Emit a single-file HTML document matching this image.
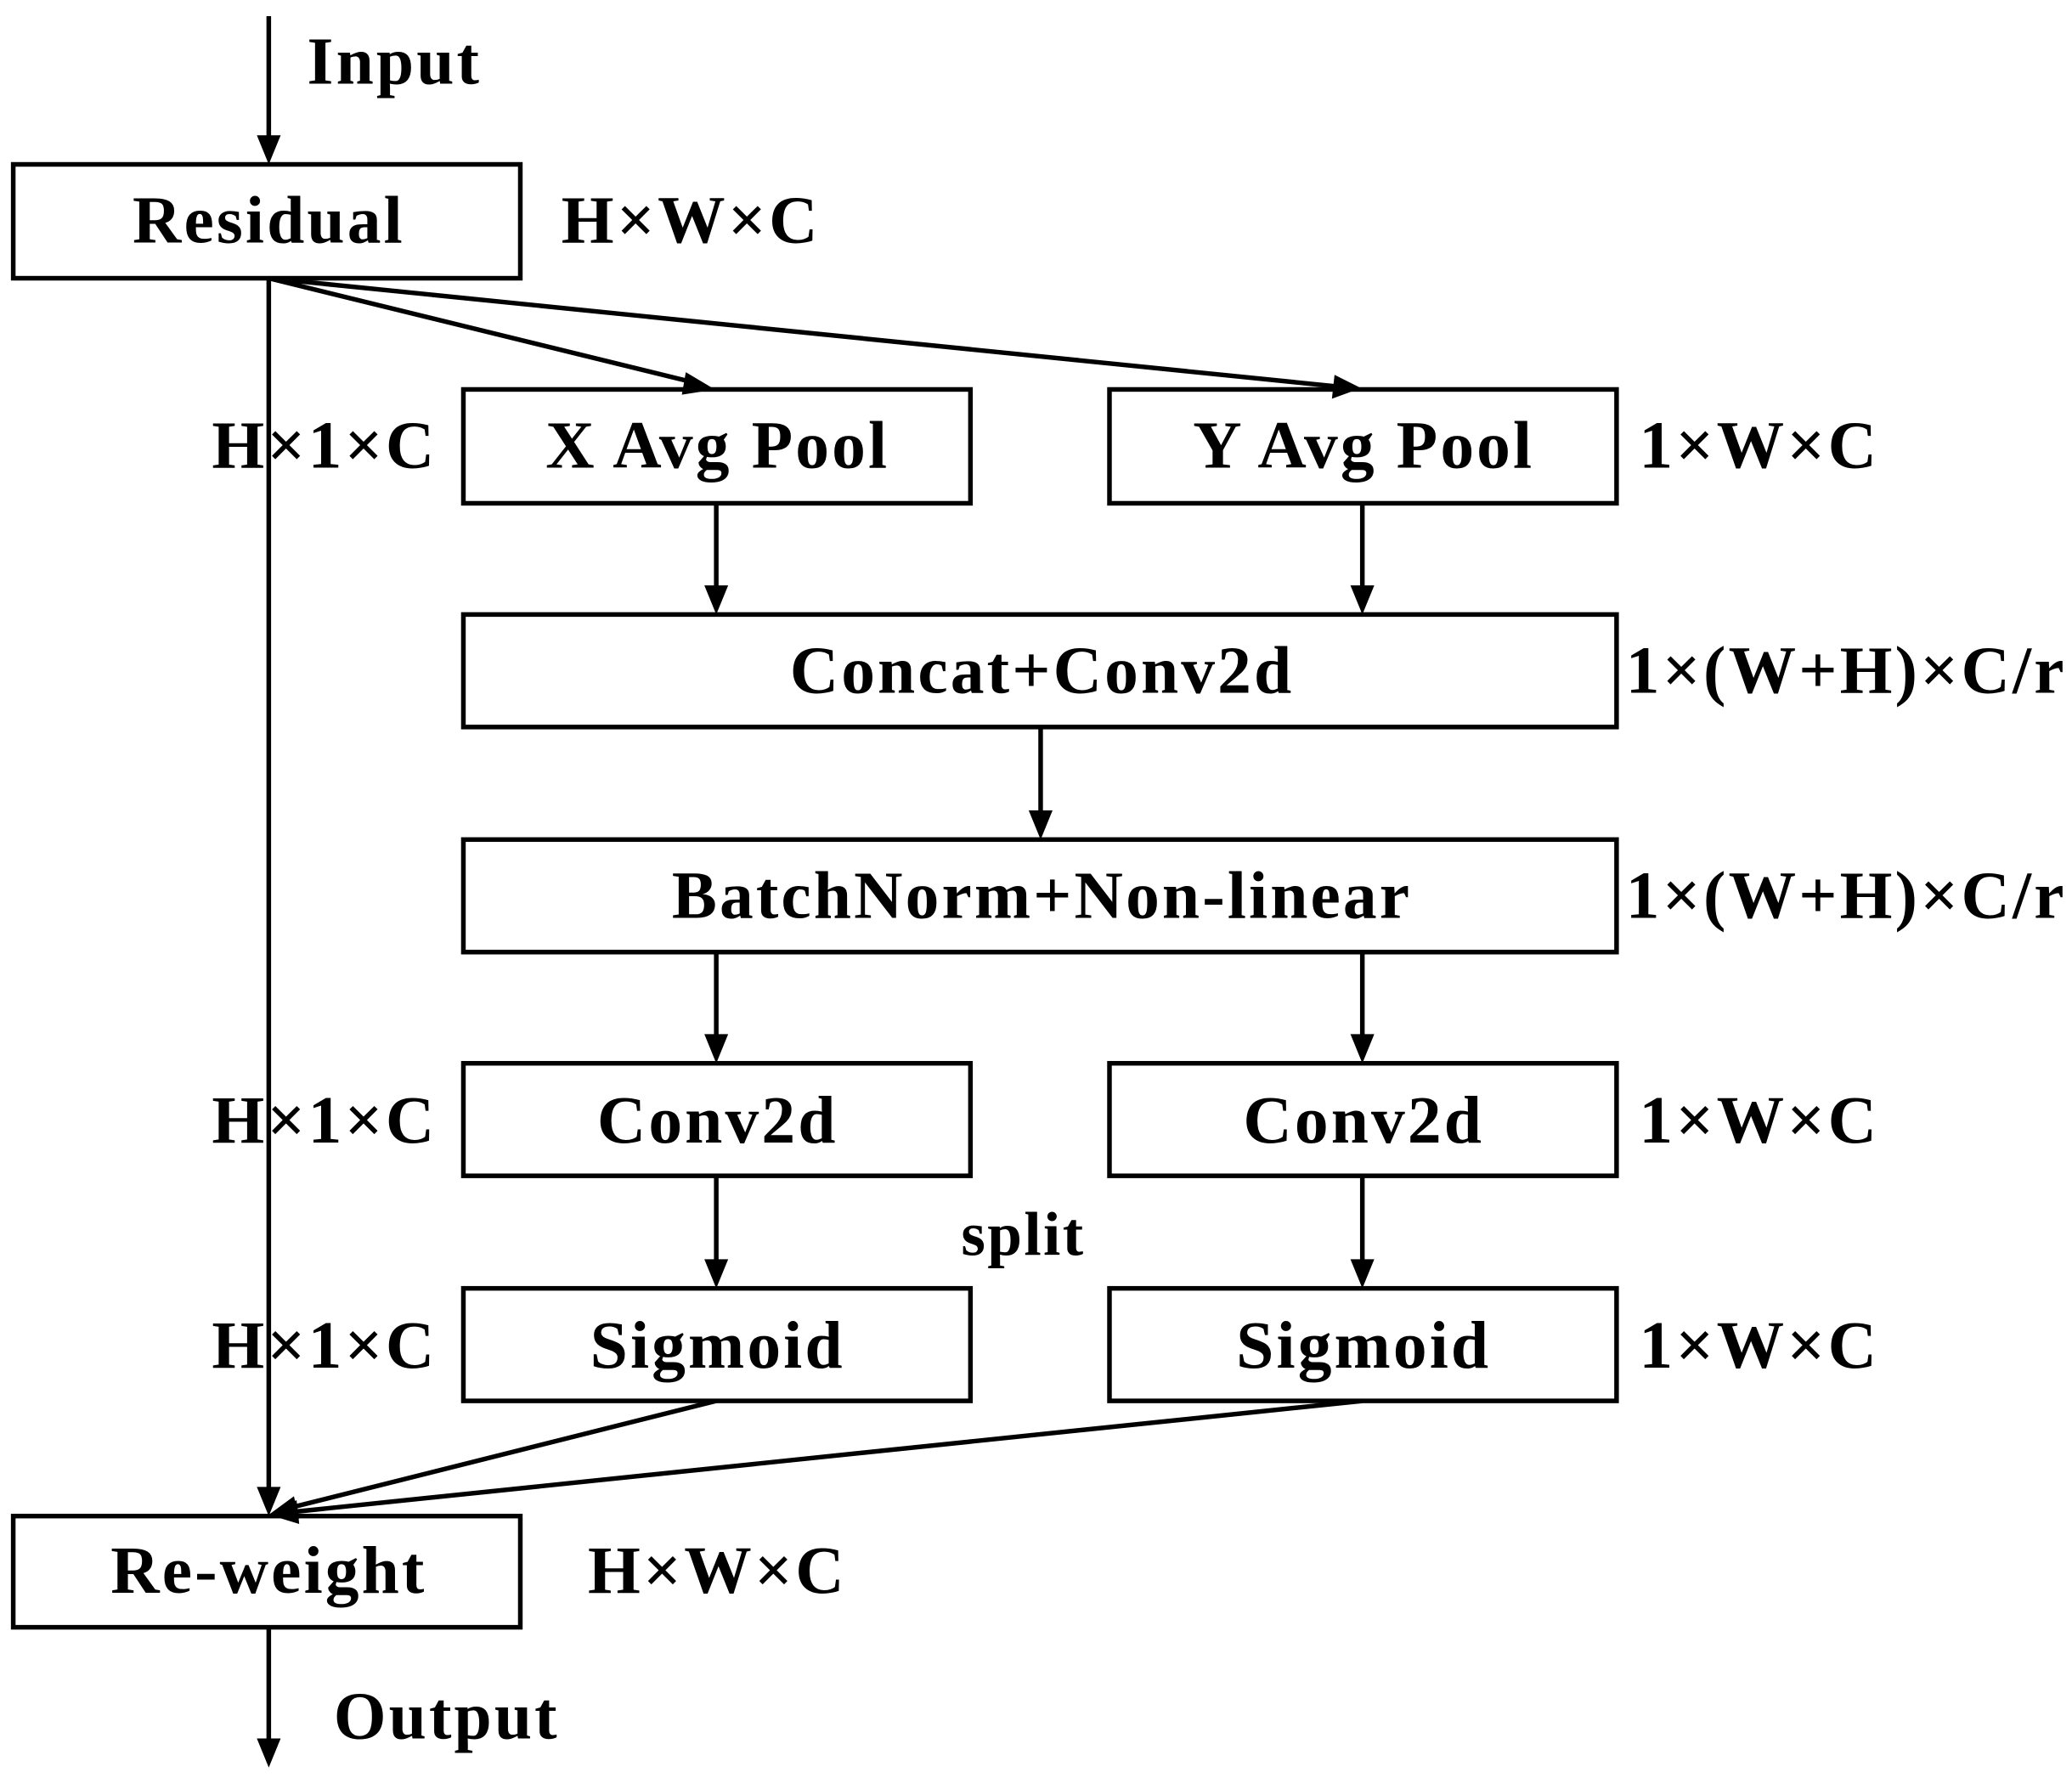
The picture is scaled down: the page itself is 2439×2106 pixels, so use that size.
<!DOCTYPE html>
<html><head><meta charset="utf-8"><style>
html,body{margin:0;padding:0;background:#fff;}
svg{display:block;}
text{font-family:"Liberation Serif",serif;font-weight:bold;fill:#000;}
</style></head><body>
<svg width="2439" height="2106" viewBox="0 0 1565 1351" xmlns="http://www.w3.org/2000/svg">
<g stroke="#000" stroke-width="3.5" fill="none">
<rect x="10" y="124" width="383" height="86"/>
<rect x="350" y="294" width="383" height="86"/>
<rect x="838" y="294" width="383" height="86"/>
<rect x="350" y="464" width="871" height="85"/>
<rect x="350" y="634" width="871" height="85"/>
<rect x="350" y="803" width="383" height="85"/>
<rect x="838" y="803" width="383" height="85"/>
<rect x="350" y="973" width="383" height="85"/>
<rect x="838" y="973" width="383" height="85"/>
<rect x="10" y="1145" width="383" height="84"/>
<line x1="203" y1="12" x2="203" y2="108"/>
<line x1="203" y1="210" x2="203" y2="1128"/>
<line x1="203" y1="210" x2="525" y2="289"/>
<line x1="203" y1="210" x2="1012" y2="292"/>
<line x1="541" y1="380" x2="541" y2="448"/>
<line x1="1029" y1="380" x2="1029" y2="448"/>
<line x1="786" y1="549" x2="786" y2="618"/>
<line x1="541" y1="719" x2="541" y2="787"/>
<line x1="1029" y1="719" x2="1029" y2="787"/>
<line x1="541" y1="888" x2="541" y2="957"/>
<line x1="1029" y1="888" x2="1029" y2="957"/>
<line x1="541" y1="1058" x2="218" y2="1139"/>
<line x1="1029" y1="1058" x2="220" y2="1142"/>
<line x1="203" y1="1229" x2="203" y2="1318"/>
</g>
<g fill="#000">
<polygon points="194,102 212,102 203,124"/>
<polygon points="194,1123 212,1123 203,1145"/>
<polygon points="518,281 515,298 540,294"/>
<polygon points="1008,283 1006,301 1028,293"/>
<polygon points="532,442 550,442 541,464"/>
<polygon points="1020,442 1038,442 1029,464"/>
<polygon points="777,612 795,612 786,634"/>
<polygon points="532,781 550,781 541,803"/>
<polygon points="1020,781 1038,781 1029,803"/>
<polygon points="532,951 550,951 541,973"/>
<polygon points="1020,951 1038,951 1029,973"/>
<polygon points="222,1130 226,1147 203,1144"/>
<polygon points="224,1133 226,1151 203,1144"/>
<polygon points="194,1313 212,1313 203,1335"/>
</g>
<g font-size="51" letter-spacing="2">
<text x="232" y="63">Input</text>
<text x="203" y="183" text-anchor="middle">Residual</text>
<text x="424" y="183">H×W×C</text>
<text x="160" y="353">H×1×C</text>
<text x="542" y="353" text-anchor="middle">X Avg Pool</text>
<text x="1030" y="353" text-anchor="middle">Y Avg Pool</text>
<text x="1238" y="353">1×W×C</text>
<text x="787" y="523" text-anchor="middle">Concat+Conv2d</text>
<text x="1228" y="523">1×(W+H)×C/r</text>
<text x="787" y="693" text-anchor="middle">BatchNorm+Non-linear</text>
<text x="1228" y="693">1×(W+H)×C/r</text>
<text x="160" y="863">H×1×C</text>
<text x="542" y="863" text-anchor="middle">Conv2d</text>
<text x="1030" y="863" text-anchor="middle">Conv2d</text>
<text x="1238" y="863">1×W×C</text>
<text x="726" y="948" font-size="47" letter-spacing="1.5">split</text>
<text x="160" y="1033">H×1×C</text>
<text x="542" y="1033" text-anchor="middle">Sigmoid</text>
<text x="1030" y="1033" text-anchor="middle">Sigmoid</text>
<text x="1238" y="1033">1×W×C</text>
<text x="203" y="1203" text-anchor="middle">Re-weight</text>
<text x="444" y="1203">H×W×C</text>
<text x="252" y="1313">Output</text>
</g>
</svg>
</body></html>
